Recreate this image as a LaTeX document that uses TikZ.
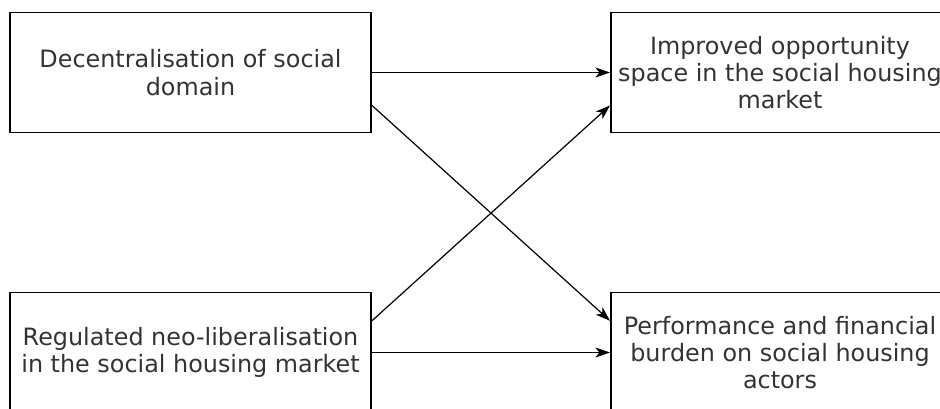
\documentclass[tikz,border=0pt]{standalone}
\usepackage{fontspec}
\setmainfont{DejaVu Sans}
\usetikzlibrary{calc,arrows.meta}
\definecolor{txt}{HTML}{333333}
\tikzset{
  box/.style={draw=black, line width=1.4pt, fill=white, minimum width=#1,
    minimum height=90pt, align=center, inner sep=0pt, text=txt,
    font=\fontsize{17.9pt}{20.5pt}\selectfont},
  link/.style={draw=black, line width=0.9pt,
    -{Stealth[length=11pt, width=7.5pt, inset=3pt]}}
}
\begin{document}
\begin{tikzpicture}[x=0.75pt, y=-0.75pt]
  \useasboundingbox (0,0) rectangle (940,409);
  \clip (0,0) rectangle (940,409);
  \node[box=270.75pt] (dec) at (190.5,72.5) {Decentralisation of social\\domain};
  \node[box=253.5pt] (imp) at (780,72.5) {Improved opportunity\\space in the social housing\\market};
  \node[box=270.75pt] (reg) at (190.5,352.5) {Regulated neo-liberalisation\\in the social housing market};
  \node[box=253.5pt] (perf) at (780,352.5) {Performance and financial\\burden on social housing\\actors};
  \draw[link] (dec.east) -- (imp.west);
  \draw[link] (reg.east) -- (perf.west);
  \draw[link] ($(dec.south east)!0.23!(dec.north east)$) -- ($(perf.north west)!0.24!(perf.south west)$);
  \draw[link] ($(reg.north east)!0.24!(reg.south east)$) -- ($(imp.south west)!0.23!(imp.north west)$);
\end{tikzpicture}
\end{document}
